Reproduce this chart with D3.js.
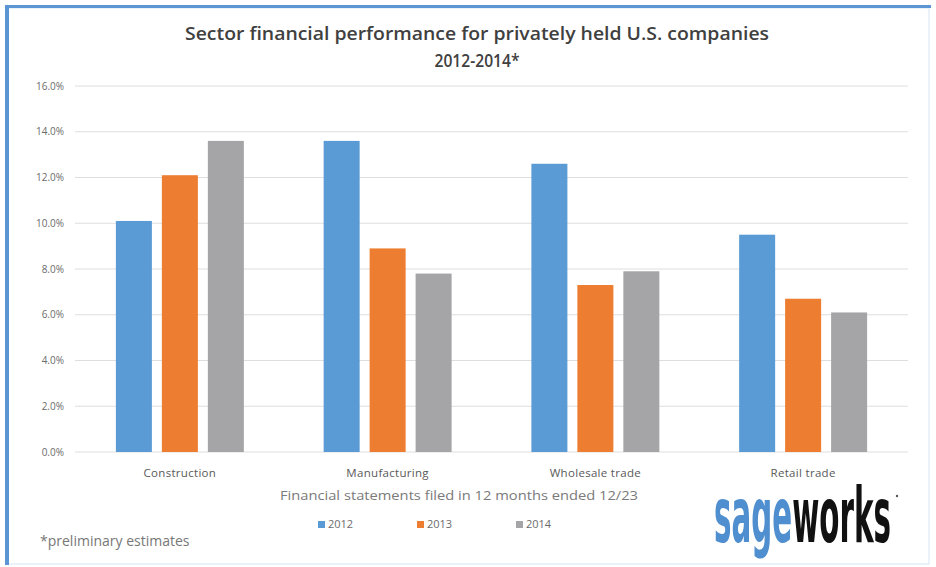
<!DOCTYPE html>
<html>
<head>
<meta charset="utf-8">
<script src="https://cdn.jsdelivr.net/npm/d3@7"></script>
<style>
  body { margin: 0; background: #fff; }
  text { font-family: 'Open Sans', 'Noto Sans', sans-serif; }
</style>
</head>
<body>
<div id="chart"></div>
<script>
const width = 936;
const height = 567;

const sectors = ['Construction', 'Manufacturing', 'Wholesale trade', 'Retail trade'];
const years = ['2012', '2013', '2014'];
const values2012 = [10.1, 13.6, 12.6, 9.5];
const values2013 = [12.1, 8.9, 7.3, 6.7];
const values2014 = [13.6, 7.8, 7.9, 6.1];
const yTicks = [0, 2, 4, 6, 8, 10, 12, 14, 16];
const colors = ['#5b9bd5', '#ed7d31', '#a5a5a8'];

const seriesValues = [values2012, values2013, values2014];
const data = sectors.map((s, i) => ({
  sector: s,
  vals: years.map((y, j) => ({ year: y, value: seriesValues[j][i] })),
}));

const svg = d3.select('#chart').append('svg')
  .attr('width', width)
  .attr('height', height);

// frame
svg.append('rect')
  .attr('x', 0).attr('y', 0).attr('width', width).attr('height', height)
  .attr('fill', '#fff');
svg.append('rect')
  .attr('x', 8).attr('y', 8).attr('width', 921).attr('height', 556)
  .attr('fill', 'none').attr('stroke', '#d6e4f2').attr('stroke-width', 1);
svg.append('rect')
  .attr('x', 5).attr('y', 5).attr('width', 926).attr('height', 3)
  .attr('fill', '#5b95d4');
svg.append('rect')
  .attr('x', 5).attr('y', 5).attr('width', 4).attr('height', 560)
  .attr('fill', '#5b95d4');

// scales
const x0 = d3.scaleBand()
  .domain(sectors)
  .range([76, 907])
  .paddingInner(0.384)
  .paddingOuter(0.192);

const x1 = d3.scaleBand()
  .domain(years)
  .range([0, x0.bandwidth()])
  .paddingInner(0.217);

const y = d3.scaleLinear()
  .domain([0, 16])
  .range([452, 86]);

// grid
svg.append('g')
  .selectAll('line')
  .data(yTicks)
  .join('line')
  .attr('x1', 75)
  .attr('x2', 908)
  .attr('y1', d => y(d))
  .attr('y2', d => y(d))
  .attr('stroke', '#dedede')
  .attr('stroke-width', 1);

// y axis labels
const yAxis = svg.append('g')
  .attr('transform', 'translate(64,0)')
  .call(d3.axisLeft(y).tickValues(yTicks).tickFormat(d => d.toFixed(1) + '%').tickSize(0).tickPadding(0));
yAxis.select('.domain').remove();
yAxis.selectAll('text')
  .attr('fill', '#6b6b6b')
  .style('font-size', '10px')
  .style('font-family', "'Open Sans', sans-serif");

// bars
const groups = svg.append('g')
  .selectAll('g')
  .data(data)
  .join('g')
  .attr('transform', d => `translate(${x0(d.sector)},0)`);

groups.selectAll('rect')
  .data(d => d.vals)
  .join('rect')
  .attr('x', d => x1(d.year))
  .attr('y', d => y(d.value))
  .attr('width', x1.bandwidth())
  .attr('height', d => y(0) - y(d.value))
  .attr('fill', (d, i) => colors[i]);

// category labels
const xAxis = svg.append('g')
  .attr('transform', 'translate(0,452)')
  .call(d3.axisBottom(x0).tickSize(0).tickPadding(17));
xAxis.select('.domain').remove();
xAxis.selectAll('text')
  .attr('fill', '#595959')
  .style('font-size', '11.5px')
  .style('letter-spacing', '0.3px')
  .style('font-family', "'Open Sans', sans-serif");

// title
svg.append('text')
  .attr('x', 477).attr('y', 40)
  .attr('text-anchor', 'middle')
  .attr('fill', '#404040')
  .style('font-size', '18px')
  .style('font-weight', '600')
  .attr('textLength', 584)
  .attr('lengthAdjust', 'spacingAndGlyphs')
  .text('Sector financial performance for privately held U.S. companies');
svg.append('text')
  .attr('x', 477).attr('y', 67)
  .attr('text-anchor', 'middle')
  .attr('fill', '#404040')
  .style('font-size', '18px')
  .style('font-weight', '600')
  .attr('textLength', 85)
  .attr('lengthAdjust', 'spacingAndGlyphs')
  .text('2012-2014*');

// x axis title
svg.append('text')
  .attr('x', 459).attr('y', 500)
  .attr('text-anchor', 'middle')
  .attr('fill', '#7a7a7a')
  .style('font-size', '13px')
  .attr('textLength', 358)
  .attr('lengthAdjust', 'spacingAndGlyphs')
  .text('Financial statements filed in 12 months ended 12/23');

// legend
const legend = svg.append('g')
  .selectAll('g')
  .data(years)
  .join('g')
  .attr('transform', (d, i) => `translate(${318 + i * 99},528)`);
legend.append('rect')
  .attr('x', 0).attr('y', -7).attr('width', 7).attr('height', 7)
  .attr('fill', (d, i) => colors[i]);
legend.append('text')
  .attr('x', 10).attr('y', 0)
  .attr('fill', '#6b6b6b')
  .style('font-size', '11px')
  .text(d => d);

// footnote
svg.append('text')
  .attr('x', 40).attr('y', 546)
  .attr('fill', '#777')
  .style('font-size', '14px')
  .text('*preliminary estimates');

// logo: narrow bold text stretched vertically
const logo = svg.append('text')
  .attr('transform', 'translate(714,542) scale(1,1.85)')
  .style('font-size', '41px')
  .style('font-weight', 'bold')
  .style('font-family', "'Liberation Sans Narrow', 'DejaVu Sans Condensed', sans-serif")
  .attr('textLength', 177)
  .attr('lengthAdjust', 'spacingAndGlyphs');
logo.append('tspan').attr('fill', '#4f8fcf').text('sage');
logo.append('tspan').attr('fill', '#111').text('works');
svg.append('circle')
  .attr('cx', 897).attr('cy', 496).attr('r', 1.2).attr('fill', '#555');
</script>
</body>
</html>
